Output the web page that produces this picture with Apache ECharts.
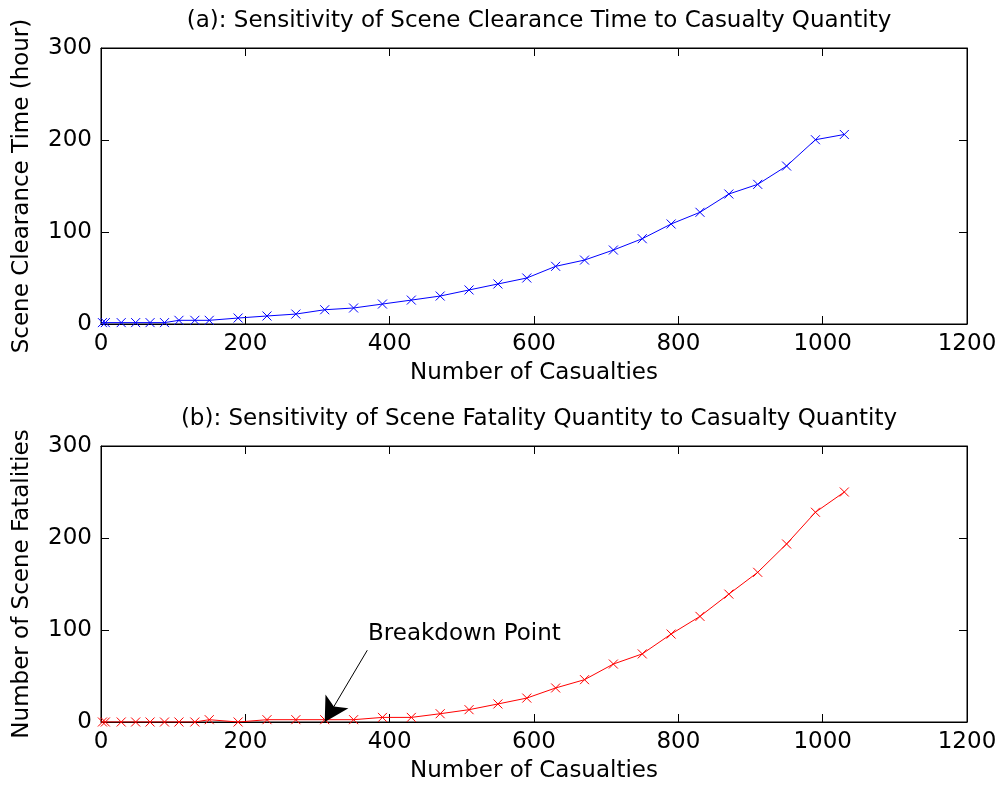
<!DOCTYPE html>
<html>
<head>
<meta charset="utf-8">
<script src="https://cdn.jsdelivr.net/npm/echarts@6/dist/echarts.min.js"></script>
<style>
  html, body { margin: 0; padding: 0; background: #fff; }
  #chart { width: 1000px; height: 792px; }
</style>
</head>
<body>
<div id="chart"></div>
<script>
// Casualty counts shared by both panels
const casualties = [2, 6, 28, 48, 68, 88, 108, 130, 150, 190, 230, 270, 310, 350, 390, 430,
  470, 510, 550, 590, 630, 670, 710, 750, 790, 830, 870, 910, 950, 990, 1030];

// Panel (a): scene clearance time in hours
const clearanceTime = [1.5, 1.5, 1.5, 1.5, 1.5, 1.5, 4, 4, 4, 6.5, 8.7, 10.8, 15.5, 17.4, 21.7, 26,
  30.4, 37, 43.5, 50, 62.7, 69.5, 80.4, 92.7, 108.7, 121.4, 141.3, 151.8, 171.7, 200.3, 206];

// Panel (b): number of scene fatalities
const fatalities = [0, 0, 0, 0, 0, 0, 0, 0, 2.5, 0, 2.5, 2.5, 2.5, 2.5, 5, 5,
  9, 13.4, 19.6, 26, 37, 46, 63, 74, 95.6, 114.8, 139, 162.7, 193.5, 228, 250];

const xTicks = { min: 0, max: 1200, interval: 200 };
const yTicks = { min: 0, max: 300, interval: 100 };

const titles = [
  '(a): Sensitivity of Scene Clearance Time to Casualty Quantity',
  '(b): Sensitivity of Scene Fatality Quantity to Casualty Quantity'
];
const yNames = ['Scene Clearance Time (hour)', 'Number of Scene Fatalities'];
const xName = 'Number of Casualties';
const annotation = 'Breakdown Point';

const FONT = 'DejaVu Sans';
const FS = 23;
const crossMark = 'path://M0,0L10,10M10,0L0,10';
const plain = v => String(v);

const grids = [
  { left: 101, right: 33, top: 48, height: 276, show: true, borderColor: '#000', borderWidth: 1, backgroundColor: 'transparent' },
  { left: 101, right: 33, top: 446, height: 276, show: true, borderColor: '#000', borderWidth: 1, backgroundColor: 'transparent' }
];

const tickStyle = { show: true, inside: true, length: 8, lineStyle: { color: '#000', width: 1 } };

function mainX(i) {
  return {
    type: 'value', gridIndex: i, position: 'bottom', ...xTicks,
    name: xName, nameLocation: 'middle', nameGap: 38,
    nameTextStyle: { fontFamily: FONT, fontSize: FS, color: '#000' },
    axisLine: { show: true, onZero: false, lineStyle: { color: '#000', width: 1 } },
    axisTick: tickStyle,
    axisLabel: { fontFamily: FONT, fontSize: FS, color: '#000', margin: 9, formatter: plain },
    splitLine: { show: false }
  };
}
function topX(i) {
  return {
    type: 'value', gridIndex: i, position: 'top', show: true, ...xTicks,
    axisLine: { show: true, onZero: false, lineStyle: { color: '#000', width: 1 } },
    axisTick: tickStyle,
    axisLabel: { show: false }, splitLine: { show: false }
  };
}
function mainY(i) {
  return {
    type: 'value', gridIndex: i, position: 'left', ...yTicks,
    name: yNames[i], nameLocation: 'middle', nameGap: 67,
    nameTextStyle: { fontFamily: FONT, fontSize: FS, color: '#000' },
    axisLine: { show: true, onZero: false, lineStyle: { color: '#000', width: 1 } },
    axisTick: tickStyle,
    axisLabel: { fontFamily: FONT, fontSize: FS, color: '#000', margin: 9, formatter: plain },
    splitLine: { show: false }
  };
}
function rightY(i) {
  return {
    type: 'value', gridIndex: i, position: 'right', show: true, ...yTicks,
    axisLine: { show: true, onZero: false, lineStyle: { color: '#000', width: 1 } },
    axisTick: tickStyle,
    axisLabel: { show: false }, splitLine: { show: false }
  };
}

function pairs(ys) { return casualties.map((x, k) => [x, ys[k]]); }

const option = {
  animation: false,
  backgroundColor: '#fff',
  title: titles.map((t, i) => ({
    text: t, left: 534, textAlign: 'center', top: i === 0 ? 5 : 403,
    textStyle: { fontFamily: FONT, fontSize: FS, fontWeight: 'normal', color: '#000' }
  })),
  grid: grids,
  xAxis: [mainX(0), topX(0), mainX(1), topX(1)],
  yAxis: [mainY(0), rightY(0), mainY(1), rightY(1)],
  series: [
    {
      type: 'line', xAxisIndex: 0, yAxisIndex: 0, data: pairs(clearanceTime),
      symbol: crossMark, symbolSize: 9, showAllSymbol: true,
      lineStyle: { color: '#0000ff', width: 1 },
      itemStyle: { color: '#0000ff', borderColor: '#0000ff', borderWidth: 1 }
    },
    {
      type: 'line', xAxisIndex: 2, yAxisIndex: 2, data: pairs(fatalities),
      symbol: crossMark, symbolSize: 9, showAllSymbol: true,
      lineStyle: { color: '#ff0000', width: 1 },
      itemStyle: { color: '#ff0000', borderColor: '#ff0000', borderWidth: 1 },
      markLine: {
        silent: true, animation: false,
        symbol: ['none', 'arrow'], symbolSize: [20, 24],
        lineStyle: { color: '#000', width: 1, type: 'solid' },
        label: { show: false },
        data: [[{ coord: [369, 78] }, { coord: [310, 0] }]]
      },
      markPoint: {
        silent: true, symbol: 'circle', symbolSize: 0,
        label: {
          show: true, position: 'right', distance: 0, formatter: annotation,
          fontFamily: FONT, fontSize: FS, color: '#000'
        },
        data: [{ coord: [370, 96] }]
      }
    },
    // empty series bound to the top and right axes so the frame ticks are laid out
    { type: 'line', xAxisIndex: 1, yAxisIndex: 1, data: [], silent: true },
    { type: 'line', xAxisIndex: 3, yAxisIndex: 3, data: [], silent: true }
  ]
};

const chart = echarts.init(document.getElementById('chart'), null, { renderer: 'canvas' });
chart.setOption(option);
</script>
</body>
</html>
